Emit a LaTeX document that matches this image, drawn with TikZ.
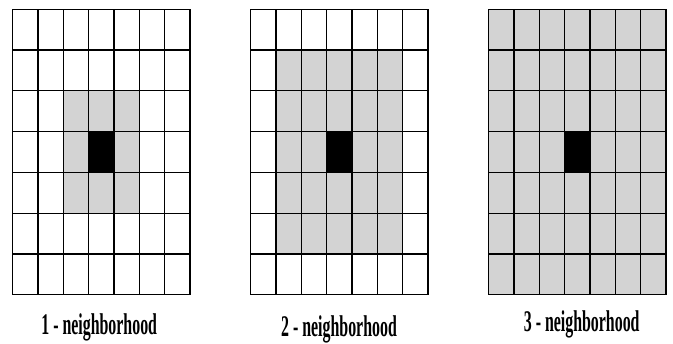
\documentclass[tikz,border=0pt]{standalone}
\usepackage{fontspec}
\setmainfont{Liberation Serif}
\definecolor{cellgray}{HTML}{D3D3D3}
\tikzset{
  gridline/.style={line width=1.2pt, draw=black},
  lbl/.style={anchor=base, inner sep=0pt, font=\bfseries\fontsize{30}{30}\selectfont}
}
\newcommand{\mygrid}[3]{% x0, first shaded index, last shaded index
  \begin{scope}[shift={(#1,9.3)}]
    \fill[cellgray] ({#2*25.33},{#2*40.77}) rectangle ({(#3+1)*25.33},{(#3+1)*40.77});
    \fill[black] ({3*25.33},{3*40.77}) rectangle ({4*25.33},{4*40.77});
    \foreach \i in {0,...,7} {
      \draw[gridline] ({\i*25.33},0) -- ({\i*25.33},285.4);
      \draw[gridline] (0,{\i*40.77}) -- (177.3,{\i*40.77});
    }
  \end{scope}
}
\begin{document}
\begin{tikzpicture}[x=1pt,y=-1pt]
\useasboundingbox[fill=white] (0,0) rectangle (673,344);
\mygrid{12.7}{2}{4}
\mygrid{250.7}{1}{5}
\mygrid{488.7}{0}{6}
\node[lbl] (l1) at (99.2,335) {\scalebox{0.53}[1]{1 - neighborhood}};
\node[lbl] (l2) at (339,337) {\scalebox{0.53}[1]{2 - neighborhood}};
\node[lbl] (l3) at (581.7,332) {\scalebox{0.53}[1]{3 - neighborhood}};
\end{tikzpicture}
\end{document}
